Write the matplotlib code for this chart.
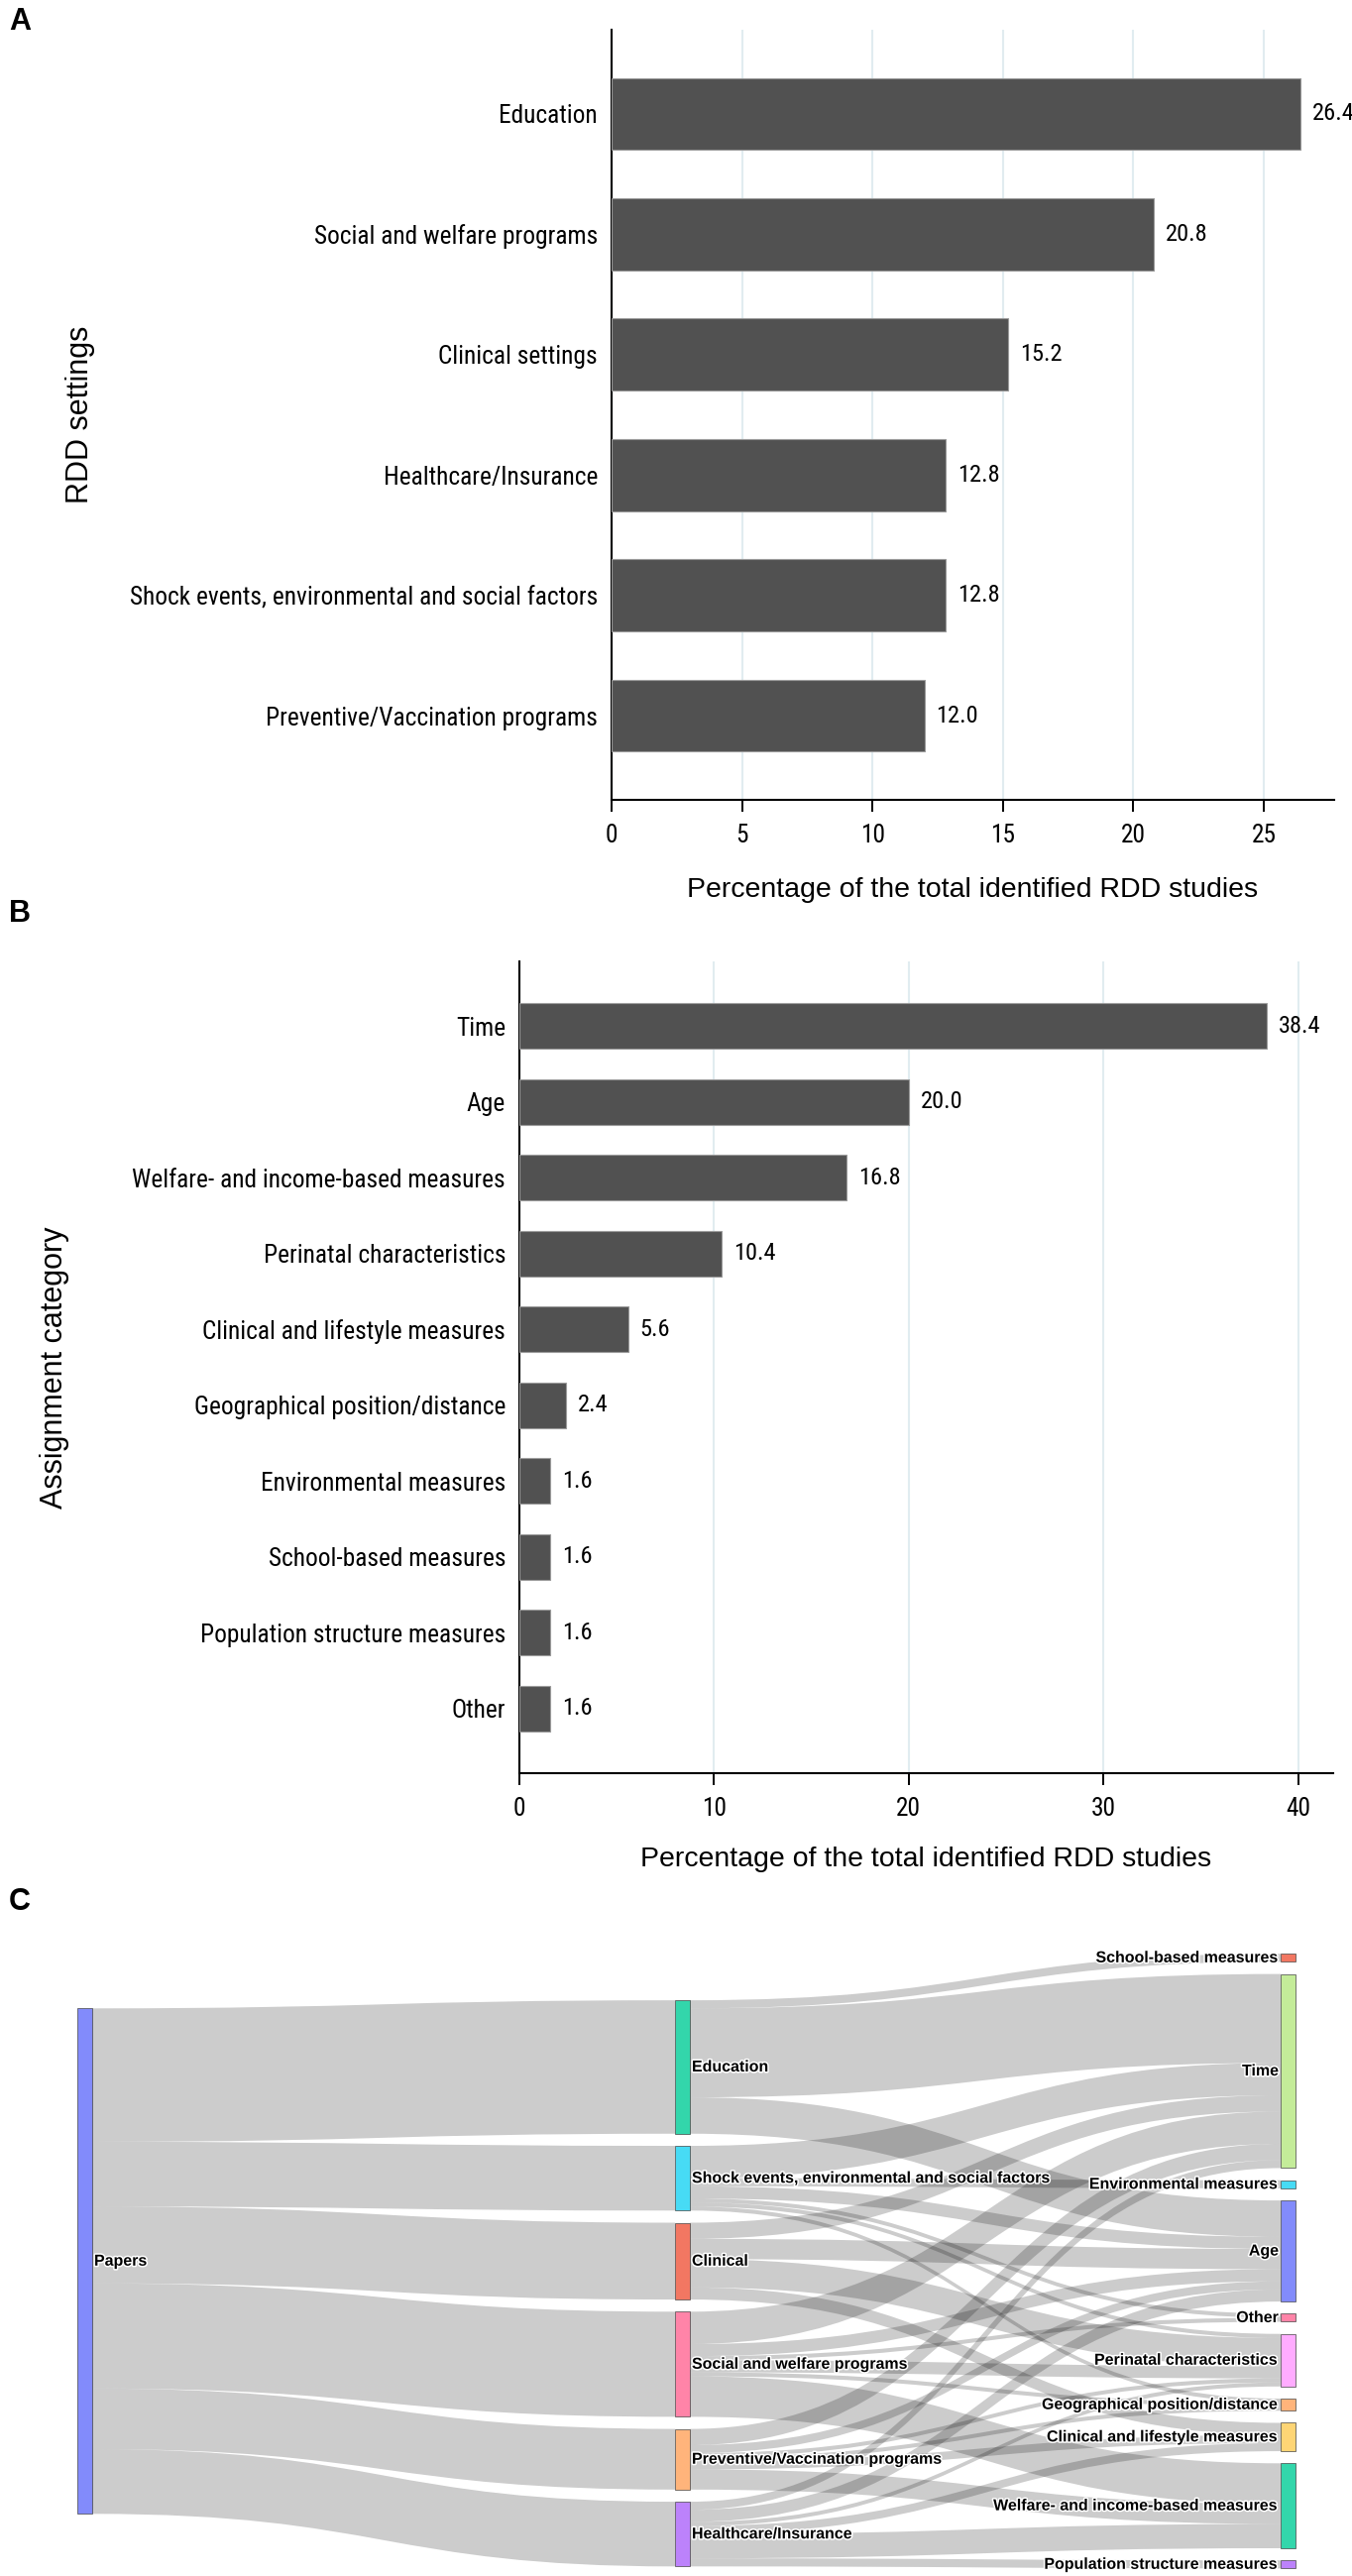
import numpy as np
import matplotlib
matplotlib.use("Agg")
import matplotlib.pyplot as plt
from matplotlib import font_manager
from matplotlib.path import Path
from matplotlib.patches import PathPatch, Rectangle
from matplotlib.colors import to_rgba
import matplotlib.patheffects as pe

# ---- panel A data ----
settingLabels = ["Education", "Social and welfare programs", "Clinical settings",
                 "Healthcare/Insurance", "Shock events, environmental and social factors",
                 "Preventive/Vaccination programs"]
settingPct = [26.4, 20.8, 15.2, 12.8, 12.8, 12.0]

# ---- panel B data ----
assignLabels = ["Time", "Age", "Welfare- and income-based measures", "Perinatal characteristics",
                "Clinical and lifestyle measures", "Geographical position/distance",
                "Environmental measures", "School-based measures",
                "Population structure measures", "Other"]
assignPct = [38.4, 20.0, 16.8, 10.4, 5.6, 2.4, 1.6, 1.6, 1.6, 1.6]

# ---- panel C data (number of papers) ----
rootLabel = "Papers"
midLabels = ["Education", "Shock events, environmental and social factors", "Clinical",
             "Social and welfare programs", "Preventive/Vaccination programs",
             "Healthcare/Insurance"]
rightLabels = ["School-based measures", "Time", "Environmental measures", "Age", "Other",
               "Perinatal characteristics", "Geographical position/distance",
               "Clinical and lifestyle measures", "Welfare- and income-based measures",
               "Population structure measures"]
# rows: midLabels, columns: rightLabels
flowCounts = [
    [2, 22, 0, 9, 0, 0, 0, 0, 0, 0],
    [0, 8, 2, 3, 1, 1, 1, 0, 0, 0],
    [0, 4, 0, 5, 0, 7, 0, 3, 0, 0],
    [0, 8, 0, 3, 1, 3, 1, 0, 10, 0],
    [0, 4, 0, 2, 0, 1, 1, 2, 5, 0],
    [0, 2, 0, 3, 0, 1, 0, 2, 6, 2],
]
rootColor = "#636EFA"
midColors = ["#00CC96", "#19D3F3", "#EF553B", "#FF6692", "#FFA15A", "#AB63FA"]
rightColors = ["#EF553B", "#B6E880", "#19D3F3", "#636EFA", "#FF6692",
               "#FF97FF", "#FFA15A", "#FECB52", "#00CC96", "#AB63FA"]

W, H = 1364, 2599


def pickFont(names):
    for name in names:
        try:
            font_manager.findfont(font_manager.FontProperties(family=name),
                                  fallback_to_default=False)
            return name
        except Exception:
            pass
    return None


narrow = pickFont(["Liberation Sans Narrow", "Arial Narrow", "Roboto Condensed"])
if narrow:
    tickFont, tickSize = narrow, 18.3
else:
    tickFont, tickSize = "Liberation Sans", 16
valueSize = tickSize * 0.96
mainFont = "Liberation Sans"
plt.rcParams["font.family"] = [mainFont, "DejaVu Sans"]


def axRect(left, top, right, bottom):
    return [left / W, 1 - bottom / H, (right - left) / W, (bottom - top) / H]


def plotBars(ax, labels, values, xmax, step, margin, ylabel, ylabX, xlabY):
    pos = np.arange(len(labels))
    ax.barh(pos, values, height=0.6, color="#515151", edgecolor="#9a9a9a",
            linewidth=0.8, zorder=3)
    for p, v in zip(pos, values):
        ax.annotate("{:.1f}".format(v), (v, p), xytext=(8.5, 0), textcoords="offset points",
                    va="center", ha="left", fontsize=valueSize, family=tickFont)
    ax.set_xlim(0, xmax)
    ax.set_ylim(len(labels) - 1 + margin, -margin)
    ax.set_yticks(pos)
    ax.set_yticklabels(labels, family=tickFont, fontsize=tickSize)
    ticks = np.arange(0, xmax, step)
    ax.set_xticks(ticks)
    ax.set_xticklabels(["{:g}".format(t) for t in ticks], family=tickFont, fontsize=tickSize)
    ax.tick_params(axis="y", length=0, pad=10)
    ax.tick_params(axis="x", length=8.6, width=1.4, pad=9, color="black")
    ax.xaxis.grid(True, color="#e1ecf0", linewidth=1.5)
    ax.set_axisbelow(True)
    for s in ["top", "right"]:
        ax.spines[s].set_visible(False)
    for s in ["left", "bottom"]:
        ax.spines[s].set_linewidth(1.5)
    ax.set_xlabel("Percentage of the total identified RDD studies", fontsize=20.5)
    ax.set_ylabel(ylabel, fontsize=22)
    ax.xaxis.set_label_coords(0.5, xlabY)
    ax.yaxis.set_label_coords(ylabX, 0.5)


def ribbon(ax, x0, y0, x1, y1, w):
    xm = (x0 + x1) / 2.0
    verts = [(x0, y0), (xm, y0), (xm, y1), (x1, y1),
             (x1, y1 + w), (xm, y1 + w), (xm, y0 + w), (x0, y0 + w), (x0, y0)]
    codes = [Path.MOVETO, Path.CURVE4, Path.CURVE4, Path.CURVE4,
             Path.LINETO, Path.CURVE4, Path.CURVE4, Path.CURVE4, Path.CLOSEPOLY]
    ax.add_patch(PathPatch(Path(verts, codes), facecolor=(0, 0, 0, 0.2),
                           edgecolor="none", zorder=1))


def stack(sizes, center, pad):
    total = sum(sizes) + pad * (len(sizes) - 1)
    tops = []
    y = center - total / 2.0
    for s in sizes:
        tops.append(y)
        y += s + pad
    return tops


def plotSankey(ax):
    pxPerPaper = 4.08
    pad = 3.0
    nodeW = 15
    colX = [78, 681, 1292]
    center = 81.2
    midShift = 5.5
    flows = np.array(flowCounts)
    midSizes = flows.sum(axis=1)
    rightSizes = flows.sum(axis=0)
    rootSize = midSizes.sum()

    rootTop = stack([rootSize], center, pad)[0]
    midTops = stack(list(midSizes), center + midShift, pad)
    rightTops = stack(list(rightSizes), center, pad)

    # root -> middle links
    off = rootTop
    for i, s in enumerate(midSizes):
        ribbon(ax, colX[0] + nodeW, off, colX[1], midTops[i], s)
        off += s
    # middle -> right links
    inOff = list(rightTops)
    for i in range(len(midLabels)):
        outOff = midTops[i]
        for j in range(len(rightLabels)):
            v = flows[i, j]
            if v == 0:
                continue
            ribbon(ax, colX[1] + nodeW, outOff, colX[2], inOff[j], v)
            outOff += v
            inOff[j] += v

    halo = [pe.withStroke(linewidth=2.2, foreground="white")]
    txt = dict(fontsize=11.5, weight="bold", va="center", path_effects=halo, zorder=4)

    def node(x, top, size, color, label, side):
        ax.add_patch(Rectangle((x, top), nodeW, size, facecolor=to_rgba(color, 0.8),
                               edgecolor="#444444", linewidth=0.5, zorder=3))
        if side == "right":
            ax.text(x + nodeW + 2, top + size / 2.0, label, ha="left", **txt)
        else:
            ax.text(x - 2, top + size / 2.0, label, ha="right", **txt)

    node(colX[0], rootTop, rootSize, rootColor, rootLabel, "right")
    for i, lab in enumerate(midLabels):
        node(colX[1], midTops[i], midSizes[i], midColors[i], lab, "right")
    for j, lab in enumerate(rightLabels):
        node(colX[2], rightTops[j], rightSizes[j], rightColors[j], lab, "left")

    ax.set_xlim(0, W)
    ax.set_ylim((H - 1950) / pxPerPaper, 0)
    ax.axis("off")


def main():
    fig = plt.figure(figsize=(W / 100.0, H / 100.0), dpi=100)
    fig.patch.set_facecolor("white")

    axA = fig.add_axes(axRect(617, 30, 1346, 807))
    plotBars(axA, settingLabels, settingPct, 27.7, 5, 0.7, "RDD settings", -0.715, -0.100)

    axB = fig.add_axes(axRect(524, 970, 1345, 1789))
    plotBars(axB, assignLabels, assignPct, 41.8, 10, 0.85, "Assignment category", -0.553, -0.090)

    axC = fig.add_axes(axRect(0, 1950, W, H))
    plotSankey(axC)

    for lab, y in [("A", 22), ("B", 922), ("C", 1919)]:
        fig.text(9 / W, 1 - y / H, lab, fontsize=22, weight="bold", va="center", ha="left")

    fig.savefig("out.png", dpi=100, facecolor="white")


main()
